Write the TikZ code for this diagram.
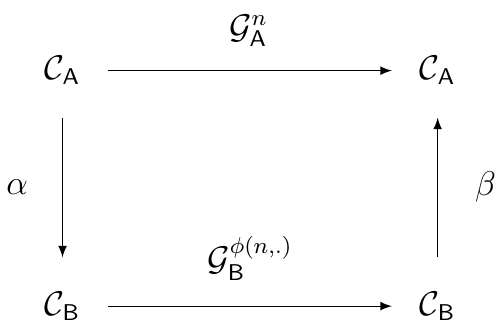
\documentclass[tikz,border=0pt]{standalone}
\usepackage{amsmath, amssymb}
\usetikzlibrary{arrows}

\begin{document}
\begin{tikzpicture}[>=latex, thin, every node/.style={font=\fontsize{11.5}{14}\selectfont}]
	\useasboundingbox (0,0) rectangle (6.17,3.98);
	% objektumok
	\node (CA1) at (0.77,3.11) {$\mathcal{C}_{\mathsf{A}}$};
	\node (CA2) at (5.39,3.11) {$\mathcal{C}_{\mathsf{A}}$};
	\node (CB1) at (0.77,0.21) {$\mathcal{C}_{\mathsf{B}}$};
	\node (CB2) at (5.39,0.21) {$\mathcal{C}_{\mathsf{B}}$};
	
	% nyilak
	\draw[->, shorten <=0.22cm, shorten >=0.22cm] (CA1) -- (CA2);
	\draw[->, shorten <=0.22cm, shorten >=0.22cm] (CB1) -- (CB2);
	\draw[->, shorten <=0.28cm, shorten >=0.3cm] (CA1) -- (CB1);
	\draw[->, shorten <=0.3cm, shorten >=0.28cm] (CB2) -- (CA2);
	
	% feliratok
	\node (GA) at (3.06,3.60) {$\mathcal{G}_{\mathsf{A}}^{n}$};
	\node (GB) at (3.08,0.80) {$\mathcal{G}_{\mathsf{B}}^{\phi(n,.)}$};
	\node (al) at (0.21,1.68) {$\alpha$};
	\node (be) at (5.98,1.68) {$\beta$};
\end{tikzpicture}
\end{document}
